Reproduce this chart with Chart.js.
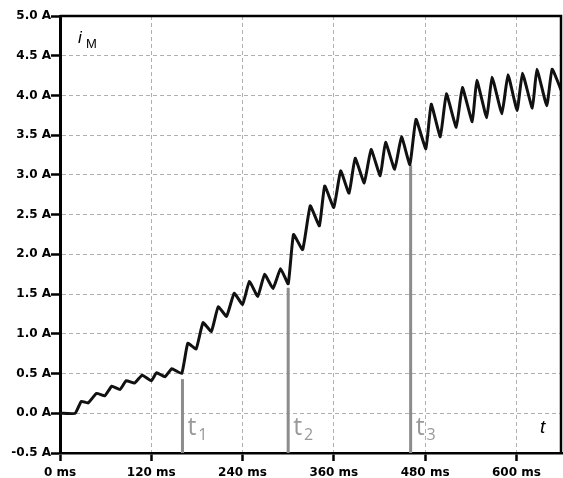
<!DOCTYPE html>
<html>
<head>
<meta charset="utf-8">
<script src="https://cdn.jsdelivr.net/npm/chart.js@4.4.1/dist/chart.umd.min.js"></script>
<style>
  html, body { margin: 0; padding: 0; background: #fff; }
  #wrap { width: 563px; height: 478px; position: relative; }
</style>
</head>
<body>
<div id="wrap"><canvas id="c"></canvas></div>
<script>
  "use strict";

  // motor current i_M (A) over time (ms), peaks / valleys
  const TIME_MS = [
    0, 20, 28, 37, 48, 59, 68, 79, 87, 98, 108, 120, 127, 138, 147, 160,
    168, 179, 188, 199, 208, 219, 229, 240, 249, 260, 269, 280, 290, 300,
    307, 319, 329, 341, 348, 360, 369, 380, 388, 400, 409, 421, 428, 440,
    449, 460, 468, 481, 488, 500, 508, 521, 529, 542, 548, 561, 568, 581,
    589, 601, 608, 621, 627, 640, 647, 660,
  ];
  const CURRENT_A = [
    0, 0, 0.15, 0.13, 0.25, 0.22, 0.34, 0.3, 0.41, 0.38, 0.48, 0.41, 0.51, 0.46, 0.56, 0.5,
    0.88, 0.81, 1.14, 1.03, 1.34, 1.22, 1.51, 1.37, 1.66, 1.47, 1.75, 1.57, 1.82, 1.63,
    2.25, 2.06, 2.61, 2.36, 2.86, 2.59, 3.05, 2.77, 3.21, 2.9, 3.32, 2.99, 3.41, 3.07,
    3.48, 3.13, 3.7, 3.33, 3.89, 3.48, 4.02, 3.6, 4.1, 3.67, 4.19, 3.72, 4.23, 3.77,
    4.26, 3.81, 4.28, 3.84, 4.33, 3.87, 4.33, 4.04,
  ];

  // switching instants t1..t3 and the height of their marker lines
  const MARK_NAMES = ["1", "2", "3"];
  const MARK_TIME_MS = [161, 300, 461];
  const MARK_TOP_A = [0.43, 1.58, 3.12];

  const X_TICKS = [0, 120, 240, 360, 480, 600];
  const Y_TICKS = [-0.5, 0, 0.5, 1, 1.5, 2, 2.5, 3, 3.5, 4, 4.5, 5];

  const Y_MIN = -0.5;
  const X_MAX = 660;

  const TICK_FONT = { family: "'DejaVu Sans', sans-serif", size: 12, weight: "bold" };
  const GRID_GRAY = "#b0b0b0";
  const MARK_GRAY = "#8c8c8c";

  const marks = MARK_TIME_MS.map((t, i) => ({
    type: "line",
    data: [{ x: t, y: Y_MIN }, { x: t, y: MARK_TOP_A[i] }],
    borderColor: MARK_GRAY,
    borderWidth: 3,
    pointRadius: 0,
    fill: false,
    order: 2,
  }));

  const trace = {
    type: "line",
    data: TIME_MS.map((t, i) => ({ x: t, y: CURRENT_A[i] })),
    borderColor: "#111",
    borderWidth: 3,
    pointRadius: 0,
    tension: 0.12,
    fill: false,
    borderJoinStyle: "round",
    order: 1,
  };

  const framePlugin = {
    id: "frame",
    afterDraw(chart) {
      const { ctx, chartArea: a } = chart;
      const xs = chart.scales.x;
      const ys = chart.scales.y;
      ctx.save();
      ctx.strokeStyle = "#000";
      ctx.lineWidth = 2.5;
      ctx.beginPath();
      ctx.moveTo(a.left, a.top);
      ctx.lineTo(a.right - 1, a.top);
      ctx.lineTo(a.right - 1, a.bottom);
      ctx.stroke();

      // i_M
      ctx.fillStyle = "#000";
      ctx.textBaseline = "alphabetic";
      ctx.font = "italic 17px 'Liberation Sans', sans-serif";
      ctx.fillText("i", a.left + 18, a.top + 27);
      ctx.font = "13px 'Liberation Sans', sans-serif";
      ctx.fillText("M", a.left + 26, a.top + 32);

      // t axis name
      ctx.font = "italic 19px 'Liberation Sans', sans-serif";
      ctx.fillText("t", a.right - 22, a.bottom - 20);

      // t1..t3
      const yb = ys.getPixelForValue(Y_MIN);
      ctx.fillStyle = "#999";
      MARK_TIME_MS.forEach((t, i) => {
        const x = xs.getPixelForValue(t) + 5;
        ctx.font = "25px 'Open Sans', sans-serif";
        ctx.fillText("t", x, yb - 18);
        const w = ctx.measureText("t").width;
        ctx.font = "16px 'Open Sans', sans-serif";
        ctx.fillText(MARK_NAMES[i], x + w + 2, yb - 13);
      });
      ctx.restore();
    },
  };

  new Chart(document.getElementById("c"), {
    data: { datasets: [trace, ...marks] },
    options: {
      responsive: true,
      maintainAspectRatio: false,
      animation: false,
      layout: { padding: { top: 16, right: 1, left: 0, bottom: 0 } },
      plugins: { legend: { display: false }, tooltip: { enabled: false } },
      scales: {
        x: {
          type: "linear",
          min: 0,
          max: X_MAX,
          afterBuildTicks: (s) => { s.ticks = X_TICKS.map((v) => ({ value: v })); },
          afterFit: (s) => { s.height = 25; },
          ticks: {
            callback: (v) => v + " ms",
            color: "#000",
            font: TICK_FONT,
            padding: 5,
            maxRotation: 0,
            autoSkip: false,
          },
          grid: {
            color: GRID_GRAY,
            lineWidth: 1,
            tickColor: "#000",
            tickLength: 8,
            tickWidth: 2.5,
          },
          border: { display: true, color: "#000", width: 2.5, dash: [4, 3] },
        },
        y: {
          type: "linear",
          min: Y_MIN,
          max: 5,
          afterBuildTicks: (s) => { s.ticks = Y_TICKS.map((v) => ({ value: v })); },
          afterFit: (s) => { s.width = 60; },
          ticks: {
            callback: (v) => v.toFixed(1) + " A",
            color: "#000",
            font: TICK_FONT,
            padding: 0,
            autoSkip: false,
          },
          grid: {
            color: GRID_GRAY,
            lineWidth: 1,
            tickColor: "#000",
            tickLength: 9,
            tickWidth: 2.5,
          },
          border: { display: true, color: "#000", width: 3, dash: [4, 3] },
        },
      },
    },
    plugins: [framePlugin],
  });
</script>
</body>
</html>
